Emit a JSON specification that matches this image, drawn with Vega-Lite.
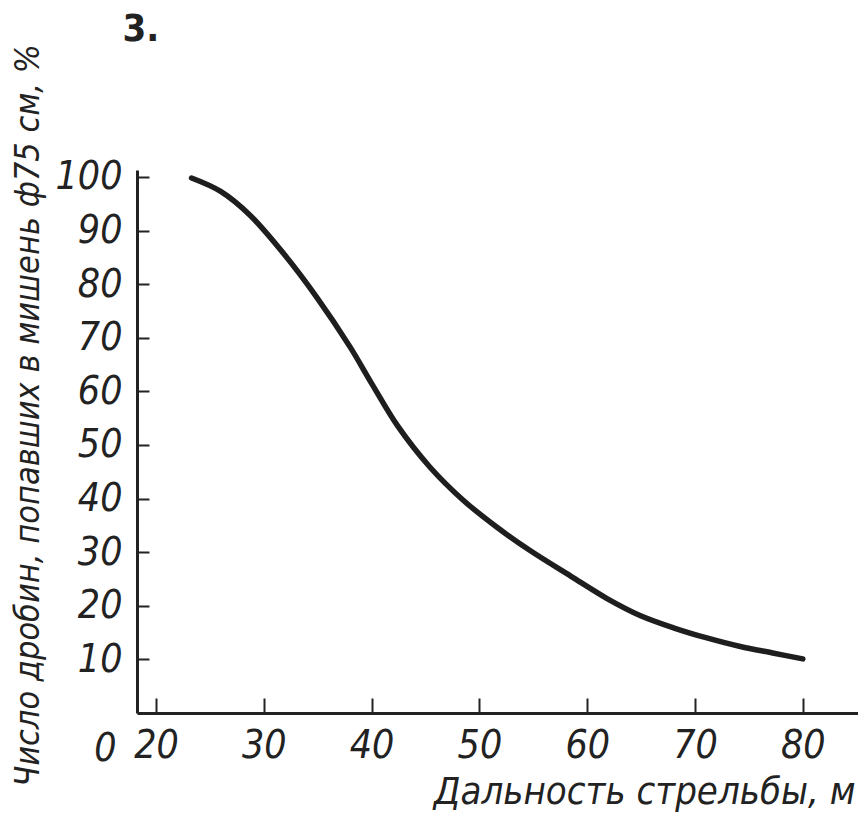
{
  "$schema": "https://vega.github.io/schema/vega-lite/v6.json",
  "width": 721,
  "height": 543,
  "autosize": "none",
  "padding": {"left": 137, "top": 170, "right": 0, "bottom": 116},
  "background": "white",
  "config": {
    "view": {"stroke": null},
    "axis": {
      "grid": false,
      "domainColor": "#222222",
      "domainWidth": 3,
      "tickColor": "#222222",
      "tickWidth": 2,
      "labelFont": "DejaVu Sans Condensed",
      "labelFontStyle": "italic",
      "labelFontSize": 39,
      "labelColor": "#222222",
      "titleFont": "DejaVu Sans Condensed",
      "titleFontStyle": "italic",
      "titleFontWeight": "normal",
      "titleColor": "#222222"
    }
  },
  "layer": [
    {
      "data": {
        "values": [
          {"distance": 23.3, "percent": 99.8},
          {"distance": 26, "percent": 97.3},
          {"distance": 28.7, "percent": 92.9},
          {"distance": 31.8, "percent": 85.8},
          {"distance": 34.9, "percent": 77.6},
          {"distance": 38, "percent": 68.3},
          {"distance": 40, "percent": 61.5},
          {"distance": 42.4, "percent": 53.6},
          {"distance": 45.4, "percent": 45.9},
          {"distance": 48.5, "percent": 39.7},
          {"distance": 51.6, "percent": 34.7},
          {"distance": 54.7, "percent": 30.3},
          {"distance": 58.5, "percent": 25.5},
          {"distance": 61.8, "percent": 21.4},
          {"distance": 64.9, "percent": 18.2},
          {"distance": 68, "percent": 15.9},
          {"distance": 71.1, "percent": 14},
          {"distance": 74.2, "percent": 12.4},
          {"distance": 77.2, "percent": 11.2},
          {"distance": 80, "percent": 10.1}
        ]
      },
      "mark": {"type": "line", "interpolate": "catmull-rom", "color": "#1e1e1e", "strokeWidth": 5.5, "strokeCap": "round"},
      "encoding": {
        "x": {
          "field": "distance",
          "type": "quantitative",
          "scale": {"domain": [18.24, 85.12], "nice": false, "zero": false},
          "axis": {
            "values": [20, 30, 40, 50, 60, 70, 80],
            "tickSize": -15,
            "labelPadding": 28,
            "labelBaseline": "top",
            "title": "Дальность стрельбы, м",
            "titleFontSize": 38,
            "titleAnchor": "end",
            "titleAlign": "right",
            "titleBaseline": "alphabetic",
            "titleX": 718,
            "titleY": 90
          }
        },
        "y": {
          "field": "percent",
          "type": "quantitative",
          "scale": {"domain": [0, 101.3], "nice": false},
          "axis": {
            "values": [10, 20, 30, 40, 50, 60, 70, 80, 90, 100],
            "tickSize": -12,
            "labelPadding": 27,
            "title": "Число дробин, попавших в мишень ф75 см, %",
            "titleFontSize": 34,
            "titleAngle": -90,
            "titleBaseline": "middle",
            "titleX": -109,
            "titleY": 245
          }
        }
      }
    },
    {
      "data": {"values": [{"distance": 15.3, "percent": -6.8, "label": "0"}]},
      "mark": {"type": "text", "font": "DejaVu Sans Condensed", "fontStyle": "italic", "fontSize": 39, "color": "#222222", "baseline": "middle", "align": "center", "clip": false},
      "encoding": {
        "x": {"field": "distance", "type": "quantitative"},
        "y": {"field": "percent", "type": "quantitative"},
        "text": {"field": "label"}
      }
    },
    {
      "data": {"values": [{"distance": 18.6, "percent": 127.5, "label": "3."}]},
      "mark": {"type": "text", "font": "DejaVu Sans Condensed", "fontWeight": "bold", "fontSize": 38, "color": "#222222", "baseline": "middle", "align": "center", "clip": false},
      "encoding": {
        "x": {"field": "distance", "type": "quantitative"},
        "y": {"field": "percent", "type": "quantitative"},
        "text": {"field": "label"}
      }
    }
  ]
}
